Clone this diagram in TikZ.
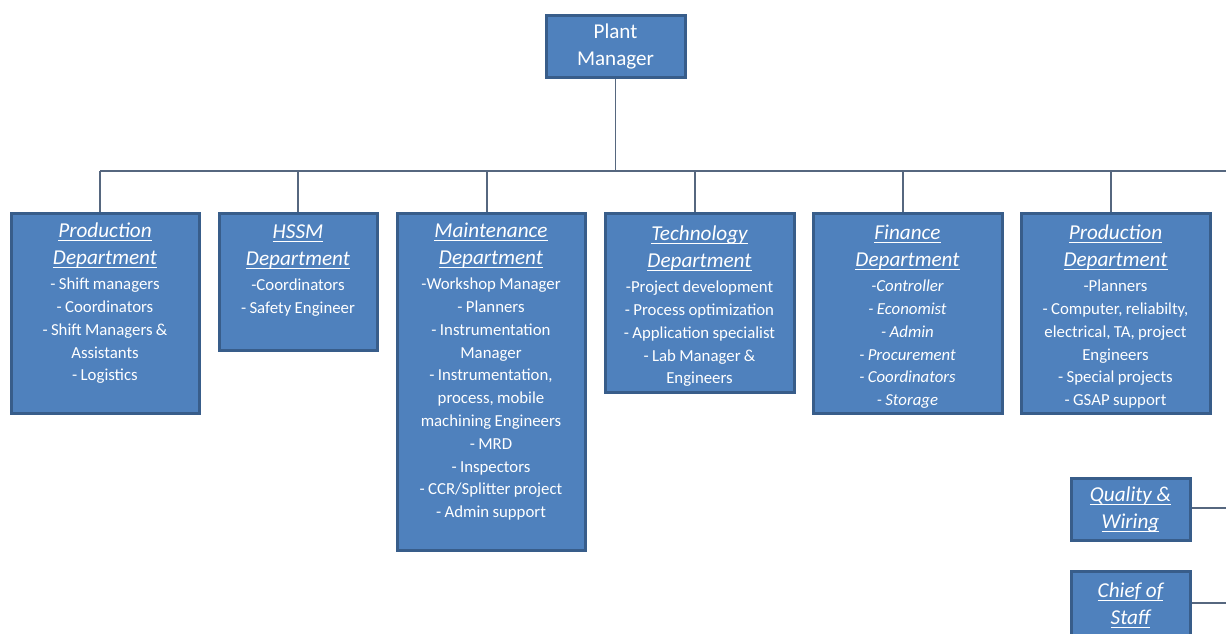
\documentclass[tikz,border=0pt]{standalone}
\usepackage{fontspec}
\setmainfont{Carlito}
\usetikzlibrary{shadows}
\definecolor{boxfill}{HTML}{4F81BD}
\definecolor{boxline}{HTML}{385D8A}
\definecolor{wirecol}{HTML}{56677F}
% underline at a fixed depth, crossing descenders
\newcommand\ulin[1]{\leavevmode{\setbox0\hbox{#1}\rlap{\rule[-3pt]{\wd0}{1pt}}\box0}}
\newcommand\ttlfont{\fontsize{21.2}{27}\selectfont\itshape}
\newcommand\bdyfont{\fontsize{16.8}{22.8}\selectfont}
\newcommand\headfont{\fontsize{21.1}{27}\selectfont}
\begin{document}
\begin{tikzpicture}[x=1pt,y=-1pt,
  box/.style={draw=boxline, line width=3pt, fill=boxfill, inner sep=0pt,
    drop shadow={opacity=0.18, shadow xshift=1.5pt, shadow yshift=-1.5pt}},
  txt/.style={text=white, inner sep=0pt, align=center, anchor=north},
  wire/.style={draw=wirecol, line width=1.3pt}]
\useasboundingbox (0,0) rectangle (1226,633);

% bus and drop points
\coordinate (bus) at (615,171);
\coordinate (busR) at (1226,171);
\coordinate (d1) at (100,171);
\coordinate (d2) at (298,171);
\coordinate (d3) at (487,171);
\coordinate (d4) at (695,171);
\coordinate (d5) at (903,171);
\coordinate (d6) at (1111,171);
\coordinate (qwR) at (1226,508);
\coordinate (csR) at (1226,603);

% boxes
\node[box, minimum width=139, minimum height=62, text=white, align=center, font=\headfont] (pm) at (615.5,46.5) {Plant\\Manager};
\node[box, minimum width=188, minimum height=200] (b1) at (105,313) {};
\node[box, minimum width=158, minimum height=137] (b2) at (298,281.5) {};
\node[box, minimum width=188, minimum height=337] (b3) at (491,381.5) {};
\node[box, minimum width=189, minimum height=179] (b4) at (699.5,302.5) {};
\node[box, minimum width=189, minimum height=200] (b5) at (907.5,313) {};
\node[box, minimum width=189, minimum height=200] (b6) at (1115.5,313) {};
\node[box, minimum width=119, minimum height=62, text=white, align=center, font=\ttlfont] (qw) at (1130.5,509.5) {\ulin{Quality \&}\\\ulin{Wiring}};
\node[box, minimum width=119, minimum height=80] (cs) at (1130.5,611) {};

% connectors
\draw[wire] (pm.south) -- (pm.south |- bus);
\draw[wire] (d1) -- (busR);
\draw[wire] (d1) -- (d1 |- b1.north);
\draw[wire] (d2) -- (d2 |- b2.north);
\draw[wire] (d3) -- (d3 |- b3.north);
\draw[wire] (d4) -- (d4 |- b4.north);
\draw[wire] (d5) -- (d5 |- b5.north);
\draw[wire] (d6) -- (d6 |- b6.north);
\draw[wire] (qw.east |- qwR) -- (qwR);
\draw[wire] (cs.east |- csR) -- (csR);

% box texts
\node[text=white, inner sep=0pt, align=center, font=\ttlfont] (tcs) at (1130.5,605.5) {\ulin{Chief of}\\\ulin{Staff}};
\node[txt, text width=184] (t1) at ([yshift=-7pt]b1.north) {%
  {\ttlfont\strut\ulin{Production}\par\ulin{Department}\par}\vspace{2.2pt}%
  {\bdyfont - Shift managers\par - Coordinators\par - Shift Managers \&\par Assistants\par - Logistics\par}};
\node[txt, text width=154] (t2) at ([yshift=-8pt]b2.north) {%
  {\ttlfont\strut\ulin{HSSM}\par\ulin{Department}\par}\vspace{2.2pt}%
  {\bdyfont -Coordinators\par - Safety Engineer\par}};
\node[txt, text width=184] (t3) at ([yshift=-7pt]b3.north) {%
  {\ttlfont\strut\ulin{Maintenance}\par\ulin{Department}\par}\vspace{2.2pt}%
  {\bdyfont -Workshop Manager\par - Planners\par - Instrumentation\par Manager\par
   - Instrumentation,\par process, mobile\par machining Engineers\par - MRD\par
   - Inspectors\par - CCR/Splitter project\par - Admin support\par}};
\node[txt, text width=185] (t4) at ([yshift=-10pt]b4.north) {%
  {\ttlfont\strut\ulin{Technology}\par\ulin{Department}\par}\vspace{2.2pt}%
  {\bdyfont -Project development\par - Process optimization\par - Application specialist\par
   - Lab Manager \&\par Engineers\par}};
\node[txt, text width=185] (t5) at ([yshift=-9pt]b5.north) {%
  {\ttlfont\strut\ulin{Finance}\par\ulin{Department}\par}\vspace{2.2pt}%
  {\bdyfont\itshape -Controller\par - Economist\par - Admin\par - Procurement\par
   - Coordinators\par - Storage\par}};
\node[txt, text width=185] (t6) at ([yshift=-9pt]b6.north) {%
  {\ttlfont\strut\ulin{Production}\par\ulin{Department}\par}\vspace{2.2pt}%
  {\bdyfont -Planners\par - Computer, reliabilty,\par electrical, TA, project\par
   Engineers\par - Special projects\par - GSAP support\par}};
\end{tikzpicture}
\end{document}
